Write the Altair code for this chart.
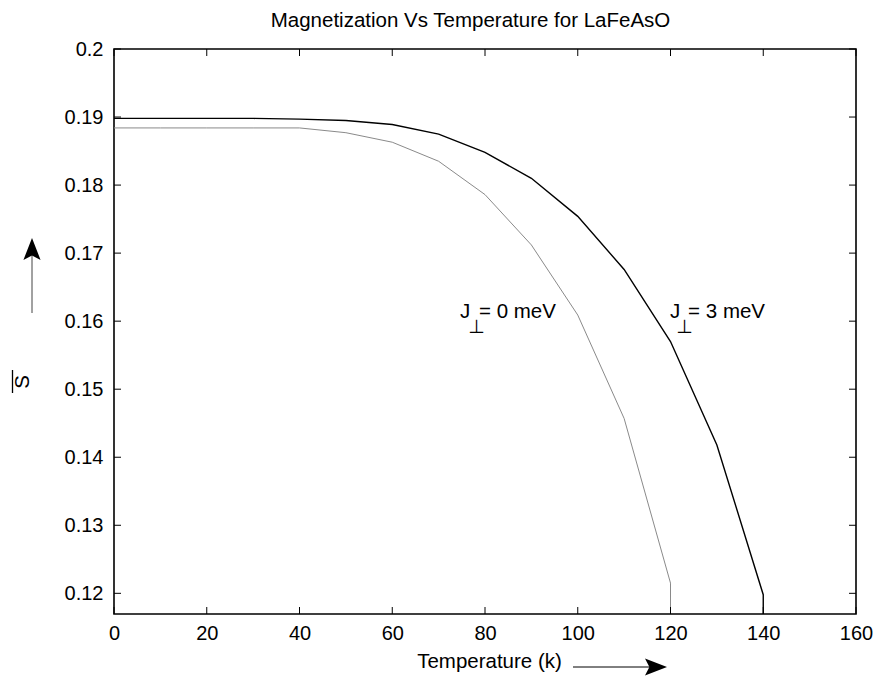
import altair as alt
import pandas as pd

FONT = "Liberation Sans"

# ---- data ----
temps_3 = [0, 10, 20, 30, 40, 50, 60, 70, 80, 90, 100, 110, 120, 130, 140, 140]
mag_3 = [0.1898, 0.1898, 0.1898, 0.1898, 0.1897, 0.1895, 0.1889, 0.1875, 0.1848,
         0.1810, 0.1754, 0.1676, 0.1570, 0.1418, 0.1198, 0.0]
temps_0 = [0, 10, 20, 30, 40, 50, 60, 70, 80, 90, 100, 110, 120, 120]
mag_0 = [0.1884, 0.1884, 0.1884, 0.1884, 0.1884, 0.1877, 0.1863, 0.1835, 0.1786,
         0.1712, 0.1609, 0.1457, 0.1215, 0.0]

x_ticks = [0, 20, 40, 60, 80, 100, 120, 140, 160]
y_ticks = [0.12, 0.13, 0.14, 0.15, 0.16, 0.17, 0.18, 0.19, 0.2]

title_text = "Magnetization Vs Temperature for LaFeAsO"
ann_text = ["J", "= 0 meV", "J", "= 3 meV"]
ann_T = [74.6, 78.7, 119.9, 123.8]
ann_S = [0.1605, 0.1605, 0.1605, 0.1605]
sub_text = ["\u22a5", "\u22a5"]
sub_T = [78.2, 123.0]
sub_S = [0.1583, 0.1583]

# ---- tables ----
lines = pd.DataFrame({
    "T": temps_3 + temps_0,
    "S": mag_3 + mag_0,
    "series": ["J3"] * len(temps_3) + ["J0"] * len(temps_0),
    "order": list(range(len(temps_3))) + list(range(len(temps_0))),
})
xt = pd.DataFrame({"T": x_ticks})
yt = pd.DataFrame({"S": y_ticks})
ann = pd.DataFrame({"T": ann_T, "S": ann_S, "text": ann_text})
sub = pd.DataFrame({"T": sub_T, "S": sub_S, "text": sub_text})
one = pd.DataFrame({"a": [0]})

W, H = 742, 565

x_enc = alt.X("T:Q",
              scale=alt.Scale(domain=[0, 160], nice=False, zero=False),
              axis=alt.Axis(values=x_ticks, ticks=False, domain=False, grid=False,
                            labelFontSize=20, labelFont=FONT, labelColor="black",
                            labelPadding=9, labelFlush=False, labelOverlap=False,
                            title="Temperature (k)", titleFontSize=20.5, titleFont=FONT,
                            titleFontWeight="normal", titleColor="black",
                            titleX=375, titleY=53, titleAlign="center",
                            titleBaseline="alphabetic"))
y_enc = alt.Y("S:Q",
              scale=alt.Scale(domain=[0.11696, 0.2], nice=False, zero=False),
              axis=alt.Axis(values=y_ticks, format=".2~f", ticks=False, domain=False,
                            grid=False, labelFontSize=20, labelFont=FONT,
                            labelColor="black", labelPadding=11, labelOverlap=False,
                            labelFlush=False, title=None))

line_layer = alt.Chart(lines).mark_line(clip=True).encode(
    x=x_enc, y=y_enc,
    order="order:Q",
    color=alt.Color("series:N", scale=alt.Scale(domain=["J3", "J0"],
                                                range=["#000000", "#8a8a8a"]), legend=None),
    strokeWidth=alt.StrokeWidth("series:N", scale=alt.Scale(domain=["J3", "J0"],
                                                             range=[1.4, 1.0]), legend=None),
)

tick_bottom = alt.Chart(xt).mark_rule(color="black", strokeWidth=1).encode(
    x=x_enc, y=alt.value(H), y2=alt.value(H - 7))
tick_top = alt.Chart(xt).mark_rule(color="black", strokeWidth=1).encode(
    x=x_enc, y=alt.value(0), y2=alt.value(7))
tick_left = alt.Chart(yt).mark_rule(color="black", strokeWidth=1).encode(
    y=y_enc, x=alt.value(0), x2=alt.value(7))
tick_right = alt.Chart(yt).mark_rule(color="black", strokeWidth=1).encode(
    y=y_enc, x=alt.value(W - 7), x2=alt.value(W))

ann_layer = alt.Chart(ann).mark_text(align="left", baseline="alphabetic",
                                     fontSize=20.5, font=FONT, color="black").encode(
    x=x_enc, y=y_enc, text="text:N")
sub_layer = alt.Chart(sub).mark_text(align="center", baseline="alphabetic",
                                     fontSize=19, font="DejaVu Sans", color="black").encode(
    x=x_enc, y=y_enc, text="text:N")

# chart title and axis-title decorations (arrows and S-bar label)
title_layer = alt.Chart(one).mark_text(text=title_text, fontSize=20.5, font=FONT,
                                       color="black", align="center",
                                       baseline="alphabetic").encode(
    x=alt.value(356.5), y=alt.value(-22))
arrow_path = "M 1 0 L -1 -0.78 L -0.6 0 L -1 0.78 Z"
x_shaft = alt.Chart(one).mark_rule(color="black", strokeWidth=1).encode(
    x=alt.value(459), x2=alt.value(543), y=alt.value(618))
x_head = alt.Chart(one).mark_point(shape=arrow_path, size=484, filled=True,
                                   color="black", opacity=1).encode(
    x=alt.value(542), y=alt.value(618))
y_shaft = alt.Chart(one).mark_rule(color="#444444", strokeWidth=1).encode(
    x=alt.value(-82), y=alt.value(264), y2=alt.value(203))
y_head = alt.Chart(one).mark_point(shape=arrow_path, size=484, filled=True,
                                   color="black", opacity=1, angle=270).encode(
    x=alt.value(-82), y=alt.value(200))
s_label = alt.Chart(one).mark_text(text="S", angle=270, fontSize=20.5, font=FONT,
                                   color="black", align="center", baseline="middle").encode(
    x=alt.value(-91), y=alt.value(333))
s_bar = alt.Chart(one).mark_rule(color="black", strokeWidth=1.3).encode(
    x=alt.value(-101.5), y=alt.value(321), y2=alt.value(344))

chart = alt.layer(
    line_layer, tick_bottom, tick_top, tick_left, tick_right,
    ann_layer, sub_layer, title_layer, x_shaft, x_head, y_shaft, y_head, s_label, s_bar
).properties(
    width=W, height=H,
    autosize="none",
    padding={"left": 114, "top": 49, "right": 19, "bottom": 63},
    background="white",
).configure_view(stroke="black", strokeWidth=1.6)

chart.save("out.html", embed_options={"renderer": "svg", "actions": False})
